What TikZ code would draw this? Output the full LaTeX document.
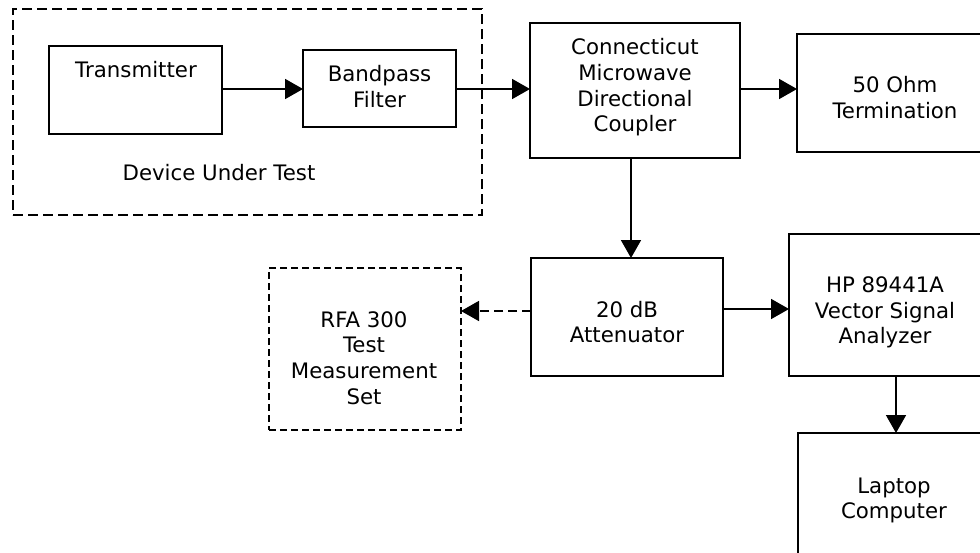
\documentclass[tikz,border=0pt]{standalone}
\usepackage{fontspec}
\setmainfont{DejaVu Sans}
\usetikzlibrary{arrows.meta}
\begin{document}
\begin{tikzpicture}[x=1pt,y=-1pt,
  box/.style={draw, line width=1.7pt, inner sep=0pt, outer sep=0pt},
  txt/.style={inner sep=0pt, align=center, font=\fontsize{21.3}{25.6}\selectfont},
  arr/.style={line width=1.7pt, -{Triangle[length=18pt,width=20pt]}},
  dasharr/.style={arr, dash pattern=on 9pt off 5pt},
  bigdash/.style={dash pattern=on 10pt off 5pt},
  smalldash/.style={dash pattern=on 7pt off 4pt}]
\useasboundingbox (0,0) rectangle (980,552);
\clip (0,0) rectangle (980,552);
% boxes
\node[box, bigdash, minimum width=469pt, minimum height=206pt] (dut) at (247.5,112) {};
\node[box, minimum width=173pt, minimum height=88pt] (tx) at (135.5,90) {};
\node[box, minimum width=153pt, minimum height=77pt] (bp) at (379.5,88.5) {};
\node[box, minimum width=210pt, minimum height=135pt] (cp) at (635,90.5) {};
\node[box, minimum width=196pt, minimum height=118pt] (tm) at (895,93) {};
\node[box, minimum width=192pt, minimum height=118pt] (at) at (627,317) {};
\node[box, smalldash, minimum width=192pt, minimum height=162pt] (rf) at (365,349) {};
\node[box, minimum width=192pt, minimum height=142pt] (hp) at (885,305) {};
\node[box, minimum width=192pt, minimum height=135pt] (lp) at (894,500.5) {};
% texts
\node[txt] (dut-t) at (219,172.5) {Device Under Test};
\node[txt] (tx-t) at (136,69.5) {Transmitter};
\node[txt] (bp-t) at (379.5,86.7) {Bandpass\\Filter};
\node[txt] (cp-t) at (635,87.5) {Connecticut\\Microwave\\Directional\\Coupler};
\node[txt] (tm-t) at (895,97.5) {50 Ohm\\Termination};
\node[txt] (at-t) at (627,322) {20 dB\\Attenuator};
\node[txt] (rf-t) at (364,358) {RFA 300\\Test\\Measurement\\Set};
\node[txt] (hp-t) at (885,312.5) {HP 89441A\\Vector Signal\\Analyzer};
\node[txt] (lp-t) at (894,500.5) {Laptop\\Computer};
% helper coordinates
\coordinate (rowA) at (0,89);
\coordinate (colA) at (631,0);
\coordinate (rowB) at (0,311);
\coordinate (rowC) at (0,309);
\coordinate (colB) at (896,0);
% connectors
\draw[arr] (tx.east |- rowA) -- (bp.west |- rowA);
\draw[arr] (bp.east |- rowA) -- (cp.west |- rowA);
\draw[arr] (cp.east |- rowA) -- (tm.west |- rowA);
\draw[arr] (cp.south -| colA) -- (at.north -| colA);
\draw[dasharr] (at.west |- rowB) -- (rf.east |- rowB);
\draw[arr] (at.east |- rowC) -- (hp.west |- rowC);
\draw[arr] (hp.south -| colB) -- (lp.north -| colB);
\end{tikzpicture}
\end{document}
